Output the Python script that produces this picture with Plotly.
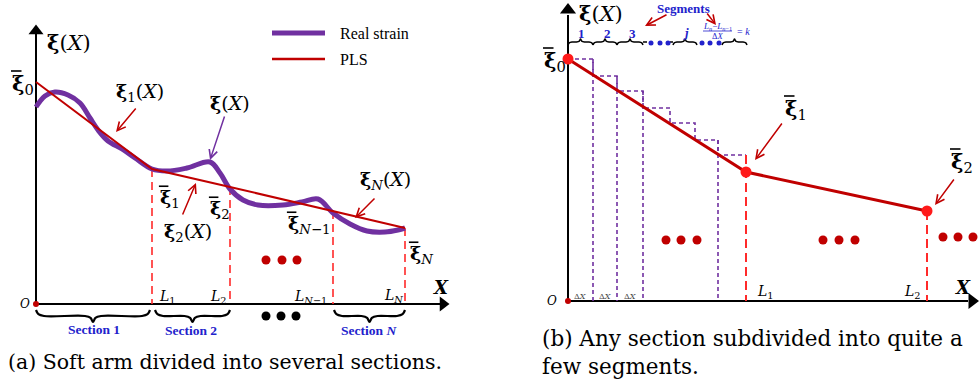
import plotly.graph_objects as go

SERIF = "DejaVu Serif"
TIMES = "Liberation Serif"
DARKRED = "#c00000"
RED = "#ff2a2a"
PURPLE = "#7030a0"
BLUE = "#2222cc"

# ---------------- Panel (a) data ----------------
L_a = [0, 11.6, 19.4, 29.7, 36.9]          # section boundaries (X)
xi_bar_a = [22.2, 13.5, 11.7, 9.3, 7.6]     # PLS node values
real_x = [0, 0.9, 1.9, 3.2, 4.4, 5.4, 6.2, 7.2, 8.6, 9.9, 11.6, 13.1, 15.1, 17.4,
          18.4, 19.4, 20.7, 22.2, 24.7, 26.6, 28.2, 29.7, 31.4, 33.1, 34.9, 36.2, 36.9]
real_y = [19.7, 20.8, 21.2, 20.9, 20.1, 18.6, 17.4, 16.3, 15.5, 14.6, 13.5, 13.3, 13.6, 14.2,
          13.1, 11.5, 10.4, 9.9, 9.9, 10.2, 10.5, 9.1, 8.0, 7.3, 7.2, 7.4, 7.6]
sections_a = ["Section 1", "Section 2", "Section <i>N</i>"]
node_subs_a = ["0", "1", "2", "<i>N</i>−1", "<i>N</i>"]

# ---------------- Panel (b) data ----------------
L_b = [0, 17.8, 35.9]
xi_bar_b = [24.2, 12.9, 9.0]
seg_edges = [0, 2.5, 4.9, 7.5, 10.2, 12.7, 15.0, 17.8]
seg_tops = [24.2, 22.5, 21.0, 19.3, 17.8, 16.1, 14.6]
seg_drop_idx = [1, 2, 3, 6]
seg_labels = ["1", "2", "3"]

fig = go.Figure()


def line(x, y, ax="", color="black", width=2, dash=None, shape="linear"):
    fig.add_trace(go.Scatter(x=x, y=y, xaxis="x" + ax, yaxis="y" + ax, mode="lines",
                             line=dict(color=color, width=width, dash=dash, shape=shape),
                             hoverinfo="skip", showlegend=False))


def dots(x, y, ax="", color="black", size=9, symbol="circle"):
    fig.add_trace(go.Scatter(x=x, y=y, xaxis="x" + ax, yaxis="y" + ax, mode="markers",
                             marker=dict(color=color, size=size, symbol=symbol, line=dict(width=0)),
                             hoverinfo="skip", showlegend=False))


def txt(x, y, s, size, ax="", color="black", family=SERIF, xanchor="center", yanchor="middle"):
    fig.add_annotation(x=x, y=y, xref="x" + ax, yref="y" + ax, text=s, showarrow=False,
                       font=dict(size=size, color=color, family=family),
                       xanchor=xanchor, yanchor=yanchor)


def xibar(xl, y, sub, size, ax=""):
    # bold xi with an overbar, left edge at xl
    txt(xl, y, "<b>ξ</b><sub>" + sub + "</sub>", size, ax=ax, xanchor="left")
    k = size / 21.0
    line([xl + 0.1 * k, xl + 1.15 * k], [y + 1.3 * k, y + 1.3 * k], ax=ax, width=1.6)


def arrow(x, y, dx, dy, ax="", color=DARKRED, width=1.5):
    fig.add_annotation(x=x, y=y, xref="x" + ax, yref="y" + ax, text="", showarrow=True,
                       ax=dx, ay=dy, arrowhead=5, arrowsize=1.1, arrowwidth=width,
                       arrowcolor=color, standoff=0, startstandoff=0)


def brace(x0, x1, y0, h, r, ax="", width=2.2):
    m = (x0 + x1) / 2
    xs = [x0, x0 + 0.3 * r, x0 + r, m - r, m - 0.3 * r, m, m + 0.3 * r, m + r, x1 - r, x1 - 0.3 * r, x1]
    ys = [y0, y0 + 0.35 * h, y0 + 0.5 * h, y0 + 0.5 * h, y0 + 0.65 * h, y0 + h,
          y0 + 0.65 * h, y0 + 0.5 * h, y0 + 0.5 * h, y0 + 0.35 * h, y0]
    line(xs, ys, ax=ax, width=width, shape="spline")


# ================= Panel (a) =================
line([0, 0], [0, 27.0], width=2)
line([0, 40.4], [0, 0], width=2)
dots([0], [27.3], size=13, symbol="triangle-up")
dots([40.7], [0], size=13, symbol="triangle-right")
dots([0], [0], color=DARKRED, size=6)

for xv, yv in zip(L_a[1:], xi_bar_a[1:]):
    line([xv, xv], [yv, 0], color=RED, width=1.6, dash="8px,5px")

line(real_x, real_y, color=PURPLE, width=5, shape="spline")
line(L_a, xi_bar_a, color=DARKRED, width=2)

# legend
line([23.6, 28.9], [27.1, 27.1], color=PURPLE, width=5)
line([23.6, 28.9], [24.5, 24.5], color=DARKRED, width=2.5)
txt(30.2, 27.1, "Real strain", 16, family=TIMES, xanchor="left")
txt(30.2, 24.5, "PLS", 16, family=TIMES, xanchor="left")

# labels
txt(0.9, 26.2, "<b>ξ</b>(<i>X</i>)", 21, xanchor="left")
xibar(-2.6, 22.0, node_subs_a[0], 21)
txt(10.4, 21.2, "<b>ξ</b><sub>1</sub>(<i>X</i>)", 19)
txt(19.4, 20.1, "<b>ξ</b>(<i>X</i>)", 19)
txt(34.9, 12.4, "<b>ξ</b><sub><i>N</i></sub>(<i>X</i>)", 19)
xibar(12.2, 10.6, node_subs_a[1], 19)
xibar(17.2, 9.5, node_subs_a[2], 19)
txt(15.2, 7.2, "<b>ξ</b><sub>2</sub>(<i>X</i>)", 19)
xibar(25.0, 8.0, node_subs_a[3], 19)
xibar(37.2, 5.0, node_subs_a[4], 19)
txt(13.1, 0.7, "<i>L</i><sub>1</sub>", 14)
txt(18.2, 0.7, "<i>L</i><sub>2</sub>", 14)
txt(27.4, 0.7, "<i>L</i><sub><i>N</i>−1</sub>", 14)
txt(35.7, 0.8, "<i>L</i><sub><i>N</i></sub>", 14)
txt(-1.1, 0, "<i>O</i>", 12)
txt(40.5, 1.7, "<b><i>X</i></b>", 18)

arrow(8.0, 17.2, 21, -25)
arrow(17.4, 14.4, 15, -45, color=PURPLE)
arrow(31.9, 8.6, 21, -21)
arrow(16.0, 12.1, -14, 33)

dots([23.0, 24.6, 26.1], [4.4, 4.4, 4.4], color=DARKRED, size=9)
dots([23.0, 24.5, 26.0], [-1.2, -1.2, -1.2], color="black", size=9)

brace(L_a[0], L_a[1] - 0.2, -0.6, -1.2, 0.8)
brace(L_a[1] + 0.3, L_a[2], -0.6, -1.2, 0.8)
brace(L_a[3] + 0.1, L_a[4], -0.6, -1.2, 0.8)
txt((L_a[0] + L_a[1]) / 2, -2.5, "<b>" + sections_a[0] + "</b>", 13.5, color=BLUE, family=TIMES)
txt((L_a[1] + L_a[2]) / 2, -2.6, "<b>" + sections_a[1] + "</b>", 13.5, color=BLUE, family=TIMES)
txt((L_a[3] + L_a[4]) / 2, -2.6, "<b>" + sections_a[2] + "</b>", 13.5, color=BLUE, family=TIMES)

txt(18.9, -5.8, "(a) Soft arm divided into several sections.", 20.5)

# ================= Panel (b) =================
B = "2"
line([0, 0], [0, 28.6], ax=B, width=2)
line([0, 40.0], [0, 0], ax=B, width=2)
dots([0], [29.1], ax=B, size=14, symbol="triangle-up")
dots([40.4], [0], ax=B, size=14, symbol="triangle-right")
dots([0], [0], ax=B, color=DARKRED, size=6)

sx, sy = [], []
for i, t in enumerate(seg_tops):
    sx += [seg_edges[i], seg_edges[i + 1]]
    sy += [t, t]
line(sx, sy, ax=B, color=PURPLE, width=1.6, dash="4px,3px")
for i in seg_drop_idx:
    line([seg_edges[i], seg_edges[i]], [seg_tops[i - 1], 0], ax=B, color=PURPLE, width=1.6, dash="4px,3px")

line([L_b[1], L_b[1]], [seg_tops[-1], 0], ax=B, color=RED, width=2, dash="9px,5px")
line([L_b[2], L_b[2]], [xi_bar_b[2], 0], ax=B, color=RED, width=2, dash="9px,5px")

line(L_b, xi_bar_b, ax=B, color=DARKRED, width=3)
dots(L_b, xi_bar_b, ax=B, color="#ff1a1a", size=11)

# top segment braces
brace(seg_edges[0], seg_edges[1], 25.6, 0.6, 0.4, ax=B, width=1.5)
brace(seg_edges[1], seg_edges[2], 25.6, 0.6, 0.4, ax=B, width=1.5)
brace(seg_edges[2], seg_edges[3], 25.6, 0.6, 0.4, ax=B, width=1.5)
line([seg_edges[3], 7.9], [25.9, 25.9], ax=B, width=1.5)
brace(10.5, 12.9, 25.6, 0.6, 0.4, ax=B, width=1.5)
brace(15.4, 17.9, 25.6, 0.6, 0.4, ax=B, width=1.5)
line([10.2, 10.5], [25.9, 25.9], ax=B, width=1.5)
dots([8.3, 9.2, 10.0, 13.4, 14.2, 15.1], [25.8] * 6, ax=B, color=BLUE, size=5)
for lab, xv in zip(seg_labels, [1.3, 3.9, 6.4]):
    txt(xv, 26.8, "<b>" + lab + "</b>", 13, ax=B, color=BLUE, family=TIMES)
txt(11.8, 26.9, "<b><i>j</i></b>", 13, ax=B, color=BLUE, family=TIMES)
txt(14.95, 27.45, "<i>L</i><sub><i>n</i></sub>−<i>L</i><sub><i>n</i>−1</sub>", 9, ax=B, color=BLUE, family=TIMES)
line([13.5, 16.4], [27.0, 27.0], ax=B, color=BLUE, width=0.8)
txt(14.95, 26.55, "Δ<i>X</i>", 8.5, ax=B, color=BLUE, family=TIMES)
txt(16.7, 26.95, "= <i>k</i>", 10, ax=B, color=BLUE, family=TIMES, xanchor="left")
txt(11.5, 29.3, "<b>Segments</b>", 13, ax=B, color=BLUE, family=TIMES)
arrow(7.7, 27.5, 23, -12, ax=B)
arrow(14.8, 27.6, -10, -13, ax=B)

txt(0.9, 28.8, "<b>ξ</b>(<i>X</i>)", 21, ax=B, xanchor="left")
xibar(-2.6, 24.0, "0", 21, ax=B)
xibar(21.5, 19.2, "1", 21, ax=B)
xibar(38.1, 13.9, "2", 21, ax=B)
arrow(18.7, 14.1, 28, -38, ax=B)
arrow(36.7, 9.6, 20, -27, ax=B)
txt(19.7, 0.9, "<i>L</i><sub>1</sub>", 14, ax=B)
txt(34.4, 0.9, "<i>L</i><sub>2</sub>", 14, ax=B)
txt(-1.6, 0, "<i>O</i>", 12, ax=B)
txt(39.5, 1.4, "<b><i>X</i></b>", 18, ax=B)
for xv in [1.2, 3.7, 6.2]:
    txt(xv, 0.5, "Δ<i>X</i>", 8, ax=B, color="#444444")

dots([9.8, 11.3, 12.9, 25.5, 27.1, 28.7, 37.5, 39.0, 40.5],
     [6.1, 6.1, 6.1, 6.1, 6.1, 6.1, 6.4, 6.4, 6.4], ax=B, color=DARKRED, size=9)

txt(-2.8, -3.7, "(b) Any section subdivided into quite a", 21.5, ax=B, xanchor="left")
txt(-2.8, -6.5, "few segments.", 21.5, ax=B, xanchor="left")

fig.update_layout(
    width=979, height=383, margin=dict(l=0, r=0, t=0, b=0),
    paper_bgcolor="white", plot_bgcolor="rgba(0,0,0,0)",
    xaxis=dict(range=[-3.6, 94.3], domain=[0, 1], visible=False, fixedrange=True),
    yaxis=dict(range=[-7.9, 30.4], domain=[0, 1], visible=False, fixedrange=True),
    xaxis2=dict(range=[-56.8, 41.1], domain=[0, 1], overlaying="x", anchor="y2", visible=False),
    yaxis2=dict(range=[-8.2, 30.1], domain=[0, 1], overlaying="y", anchor="x2", visible=False),
    showlegend=False,
)

fig.write_html("out.html")
